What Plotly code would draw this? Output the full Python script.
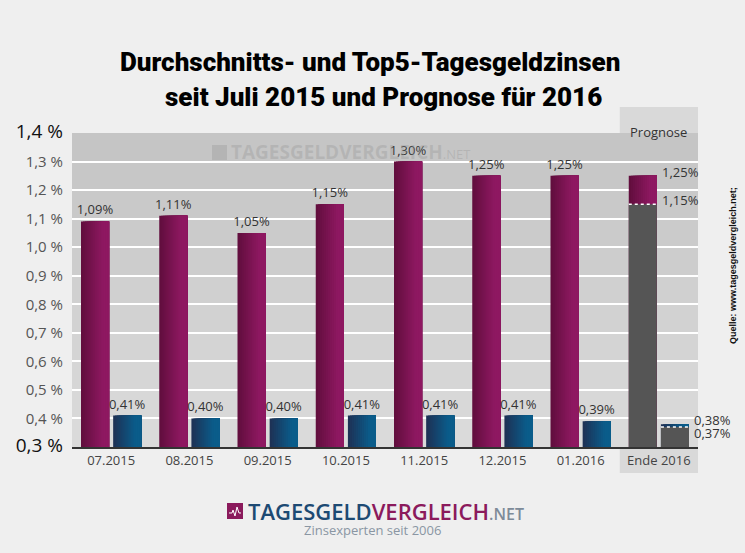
import plotly.graph_objects as go

# ---------------- data ----------------
categories = ["07.2015", "08.2015", "09.2015", "10.2015", "11.2015",
              "12.2015", "01.2016", "Ende 2016"]
top5_rates = [1.09, 1.11, 1.05, 1.15, 1.30, 1.25, 1.25, 1.25]
avg_rates = [0.41, 0.40, 0.40, 0.41, 0.41, 0.41, 0.39, 0.38]
top5_forecast_low = [None, None, None, None, None, None, None, 1.15]
avg_forecast_low = [None, None, None, None, None, None, None, 0.37]
y_ticks = [0.3, 0.4, 0.5, 0.6, 0.7, 0.8, 0.9, 1.0, 1.1, 1.2, 1.3, 1.4]
y_tick_labels = ["0,3 %", "0,4 %", "0,5 %", "0,6 %", "0,7 %", "0,8 %",
                 "0,9 %", "1,0 %", "1,1 %", "1,2 %", "1,3 %", "1,4 %"]

def fmt(v):
    return f"{v:.2f}".replace(".", ",") + "%"

# ---------------- geometry ----------------
W, H = 745, 553
L, R, T, B = 72, 698, 133, 447
def px(x):
    return (x - L) / (R - L)
def py(y):
    return (B - y) / (B - T)

BAR_W = 0.359
OFF_P = -0.385
OFF_B = 0.026
NSTRIP = 14

def lerp(c1, c2, t):
    return "rgb(%d,%d,%d)" % tuple(round(a + (b - a) * t) for a, b in zip(c1, c2))

PURPLE_L, PURPLE_R = (98, 14, 62), (142, 24, 97)
BLUE_L, BLUE_R = (30, 50, 86), (10, 92, 138)
GRAY = "#555555"

fig = go.Figure()

def gradient_bars(values, off, c1, c2):
    for k in range(NSTRIP):
        t = min(1.0, (k / (NSTRIP - 1)) * 1.25)
        fig.add_trace(go.Bar(
            x=categories, y=values,
            offset=off + k * BAR_W / NSTRIP,
            width=BAR_W - k * BAR_W / NSTRIP,
            marker=dict(color=lerp(c1, c2, t), line=dict(width=0)),
            hoverinfo="skip", showlegend=False))

gradient_bars(top5_rates, OFF_P, PURPLE_L, PURPLE_R)
gradient_bars(avg_rates, OFF_B, BLUE_L, BLUE_R)

# forecast lower parts (gray)
for vals, off in [(top5_forecast_low, OFF_P), (avg_forecast_low, OFF_B)]:
    fig.add_trace(go.Bar(
        x=categories, y=vals, offset=off, width=BAR_W,
        marker=dict(color=GRAY, line=dict(width=0)),
        hoverinfo="skip", showlegend=False))

# value labels (transparent carrier bars)
n_hist = 7
for vals, off in [(top5_rates, OFF_P), (avg_rates, OFF_B)]:
    fig.add_trace(go.Bar(
        x=categories, y=vals, offset=off, width=BAR_W,
        marker=dict(color="rgba(0,0,0,0)", line=dict(width=0)),
        text=[fmt(v) if i < n_hist else "" for i, v in enumerate(vals)],
        textposition="outside", cliponaxis=False, constraintext="none",
        textfont=dict(family="Open Sans", size=13, color="#333333"),
        hoverinfo="skip", showlegend=False))

shapes = []
# Prognose column background
shapes.append(dict(type="rect", xref="x", yref="paper",
                   x0=len(categories) - 1.5, x1=len(categories) - 0.5,
                   y0=py(473), y1=py(107),
                   fillcolor="#d9d9d9", line=dict(width=0), layer="below"))
# plot background gradient bands
top_c, bot_c = (197, 197, 197), (218, 218, 218)
nb = len(y_ticks) - 1
for i in range(nb):
    t = i / (nb - 1)
    shapes.append(dict(type="rect", xref="x", yref="y",
                       x0=-0.5, x1=len(categories) - 0.5,
                       y0=y_ticks[i], y1=y_ticks[i + 1],
                       fillcolor=lerp(bot_c, top_c, t),
                       line=dict(width=0), layer="below"))
# dotted boundary lines for forecast
last = len(categories) - 1
for vals, off in [(top5_forecast_low, OFF_P), (avg_forecast_low, OFF_B)]:
    shapes.append(dict(type="line", xref="x", yref="y",
                       x0=last + off, x1=last + off + BAR_W,
                       y0=vals[last], y1=vals[last],
                       line=dict(color="white", width=1.5, dash="dot")))
# watermark icon (top)
shapes.append(dict(type="rect", xref="paper", yref="paper",
                   x0=px(212), x1=px(227), y0=py(160), y1=py(145),
                   fillcolor="rgba(150,150,150,0.35)", line=dict(width=0)))
# logo icon (bottom)
shapes.append(dict(type="rect", xref="paper", yref="paper",
                   x0=px(227), x1=px(243), y0=py(519), y1=py(503),
                   fillcolor="#8b1a5c", line=dict(width=0)))
pts = [(229, 513), (232, 513), (233, 510), (235, 516), (237, 507), (239, 513), (241, 513)]
path = "M " + " L ".join(f"{px(a):.5f},{py(b):.5f}" for a, b in pts)
shapes.append(dict(type="path", xref="paper", yref="paper", path=path,
                   line=dict(color="white", width=1)))

annotations = []
# title
title_font = dict(family="Roboto", size=26, color="#000", weight=900)
annotations.append(dict(
    xref="paper", yref="paper", x=px(370), y=py(45), showarrow=False,
    text="Durchschnitts- und Top5-Tagesgeldzinsen", font=title_font))
annotations.append(dict(
    xref="paper", yref="paper", x=px(383), y=py(80), showarrow=False,
    text="seit Juli 2015 und Prognose für 2016", font=title_font))
# Prognose header
annotations.append(dict(xref="x", yref="paper", x=last, y=py(121), showarrow=False,
                        text="Prognose",
                        font=dict(family="Open Sans", size=13, color="#333")))
# forecast labels
lab_font = dict(family="Open Sans", size=13, color="#333333")
annotations.append(dict(xref="x", yref="y", x=last + OFF_P + BAR_W, y=top5_rates[last],
                        xanchor="left", yanchor="middle", xshift=3, yshift=4,
                        showarrow=False, text=fmt(top5_rates[last]), font=lab_font))
annotations.append(dict(xref="x", yref="y", x=last + OFF_P + BAR_W, y=top5_forecast_low[last],
                        xanchor="left", yanchor="middle", xshift=3, yshift=4,
                        showarrow=False, text=fmt(top5_forecast_low[last]), font=lab_font))
annotations.append(dict(xref="x", yref="y", x=last + OFF_B + BAR_W, y=avg_rates[last],
                        xanchor="left", yanchor="middle", xshift=3, yshift=4,
                        showarrow=False, text=fmt(avg_rates[last]), font=lab_font))
annotations.append(dict(xref="x", yref="y", x=last + OFF_B + BAR_W, y=avg_forecast_low[last],
                        xanchor="left", yanchor="middle", xshift=3, yshift=-6,
                        showarrow=False, text=fmt(avg_forecast_low[last]), font=lab_font))
# watermark text
annotations.append(dict(xref="paper", yref="paper", x=px(229), y=py(152),
                        xanchor="left", yanchor="middle", showarrow=False,
                        text="<b>TAGESGELDVERGLEICH</b><span style='font-size:13px'>.NET</span>",
                        font=dict(family="Open Sans", size=19, color="rgba(150,150,150,0.35)")))
# bottom logo
annotations.append(dict(xref="paper", yref="paper", x=px(246), y=py(511),
                        xanchor="left", yanchor="middle", showarrow=False,
                        text="<span style='color:#1d4a73'>TAGESGELD</span>"
                             "<span style='color:#8b1a5c'>VERGLEICH</span>"
                             "<span style='color:#7d8b99;font-size:16px'>.NET</span>",
                        font=dict(family="Open Sans", size=22, color="#1d4a73", weight=600)))
annotations.append(dict(xref="paper", yref="paper", x=px(372), y=py(530),
                        xanchor="center", yanchor="middle", showarrow=False,
                        text="Zinsexperten seit 2006",
                        font=dict(family="Open Sans", size=13, color="#8a96a3")))
# source
annotations.append(dict(xref="paper", yref="paper", x=px(733), y=py(265),
                        xanchor="center", yanchor="middle", showarrow=False,
                        textangle=-90, text="<b>Quelle: www.tagesgeldvergleich.net;</b>",
                        font=dict(family="Liberation Sans", size=9, color="#111")))

tick_text = []
for i, t in enumerate(y_tick_labels):
    if i == 0 or i == len(y_tick_labels) - 1:
        tick_text.append(f"<span style='font-size:19px;color:#111111'>{t}</span>")
    else:
        tick_text.append(t)

fig.update_layout(
    width=W, height=H,
    margin=dict(l=L, r=W - R, t=T, b=H - B, pad=0),
    paper_bgcolor="#efefef", plot_bgcolor="#cdcdcd",
    barmode="overlay", showlegend=False,
    separators=",.",
    shapes=shapes, annotations=annotations,
    xaxis=dict(type="category", range=[-0.5, len(categories) - 0.5],
               showgrid=False, showline=True, linecolor="#333333", linewidth=2,
               ticks="", tickfont=dict(family="Open Sans", size=13, color="#444444"),
               fixedrange=True),
    yaxis=dict(range=[y_ticks[0], y_ticks[-1]], tickvals=y_ticks, ticktext=tick_text,
               showgrid=True, gridcolor="white", gridwidth=2, zeroline=False,
               ticks="", ticklabelstandoff=8,
               tickfont=dict(family="Open Sans", size=15, color="#555555"),
               fixedrange=True),
)

fig.write_html("out.html", config={"displayModeBar": False},
               post_script="document.body.style.margin='0';")
